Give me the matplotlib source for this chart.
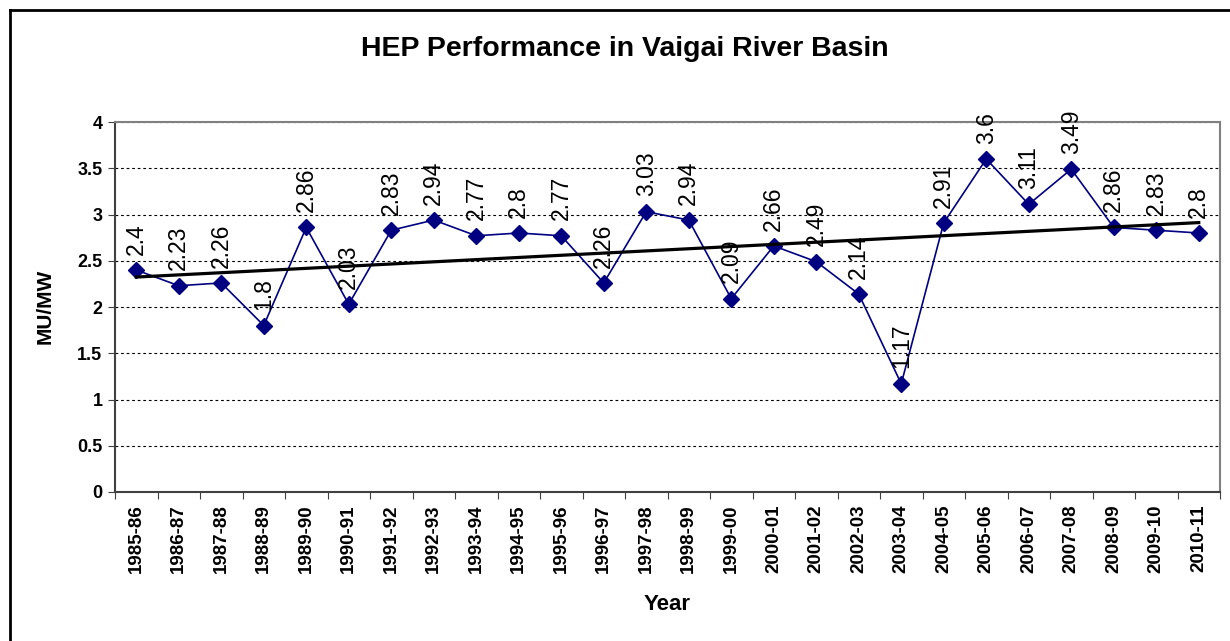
import numpy as np
import matplotlib
matplotlib.use('Agg')
import matplotlib.pyplot as plt
from matplotlib.lines import Line2D

plt.rcParams['font.family'] = ['Liberation Sans', 'DejaVu Sans']

years = ['1985-86', '1986-87', '1987-88', '1988-89', '1989-90', '1990-91',
         '1991-92', '1992-93', '1993-94', '1994-95', '1995-96', '1996-97',
         '1997-98', '1998-99', '1999-00', '2000-01', '2001-02', '2002-03',
         '2003-04', '2004-05', '2005-06', '2006-07', '2007-08', '2008-09',
         '2009-10', '2010-11']
mu_mw = [2.4, 2.23, 2.26, 1.8, 2.86, 2.03, 2.83, 2.94, 2.77, 2.8, 2.77, 2.26,
         3.03, 2.94, 2.09, 2.66, 2.49, 2.14, 1.17, 2.91, 3.6, 3.11, 3.49,
         2.86, 2.83, 2.8]


def main():
    W, H = 1230, 641
    fig = plt.figure(figsize=(W / 100, H / 100), dpi=100)
    ax = fig.add_axes([115 / W, 1 - 492 / H, (1220 - 115) / W, (492 - 122) / H])

    x = np.arange(len(years))
    y = np.array(mu_mw)

    ax.plot(x, y, color='#000080', linewidth=1.2, marker='D', markersize=8,
            markerfacecolor='#000080', markeredgecolor='#000080', zorder=3)

    # linear trend line
    k, b = np.polyfit(x, y, 1)
    ax.plot(x, k * x + b, color='black', linewidth=2.3, zorder=4)

    for xi, yi in zip(x, y):
        ax.annotate(f'{yi:g}', (xi, yi), xytext=(0, 11), textcoords='offset points',
                    rotation=90, ha='center', va='bottom', fontsize=16.5, zorder=5)

    ax.set_xlim(-0.5, len(years) - 0.5)
    ax.set_ylim(0, 4)
    ax.set_yticks(np.arange(0, 4.01, 0.5))
    ax.set_yticklabels(['0', '0.5', '1', '1.5', '2', '2.5', '3', '3.5', '4'],
                       fontsize=13, fontweight='bold')
    ax.yaxis.grid(True, color='black', linestyle=(0, (2.5, 2.5)), linewidth=0.8)
    ax.set_axisbelow(True)

    ax.set_xticks(np.arange(-0.5, len(years), 1.0))
    ax.set_xticklabels([])
    ax.set_xticks(x, minor=True)
    ax.set_xticklabels(years, minor=True, rotation=90, fontsize=13.5, fontweight='bold')
    ax.tick_params(axis='x', which='major', length=5, color='#404040')
    ax.tick_params(axis='x', which='minor', length=0, pad=9)
    ax.tick_params(axis='y', length=5, color='#404040', pad=4)

    for s in ['top', 'right']:
        ax.spines[s].set_color('#808080')
        ax.spines[s].set_linewidth(1.5)
    for s in ['left', 'bottom']:
        ax.spines[s].set_color('#404040')
        ax.spines[s].set_linewidth(1.5)

    fig.text(45 / W, 1 - 306 / H, 'MU/MW', rotation=90, ha='center', va='center',
             fontsize=15, fontweight='bold')
    fig.text(667 / W, 1 - 605 / H, 'Year', ha='center', va='center',
             fontsize=16, fontweight='bold')
    fig.text(625 / W, 1 - 49 / H, 'HEP Performance in Vaigai River Basin',
             ha='center', va='center', fontsize=20.5, fontweight='bold')

    # outer chart border (left and top visible)
    fig.add_artist(Line2D([10 / W, 10 / W], [0, 1 - 10 / H], color='black',
                          linewidth=2, transform=fig.transFigure))
    fig.add_artist(Line2D([10 / W, 1], [1 - 10 / H, 1 - 10 / H], color='black',
                          linewidth=2, transform=fig.transFigure))

    fig.savefig('out.png', dpi=100)


if __name__ == '__main__':
    main()
